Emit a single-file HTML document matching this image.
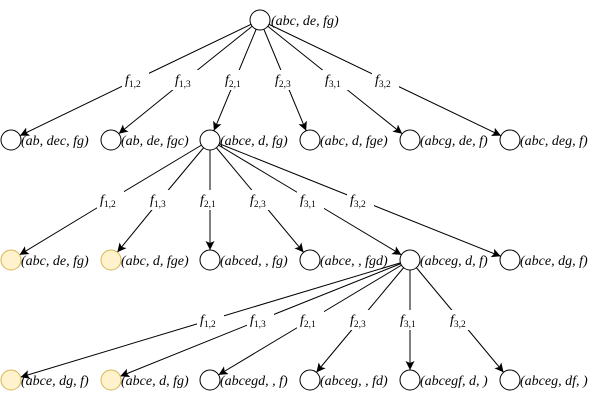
<!DOCTYPE html>
<html><head><meta charset="utf-8"><style>
html,body{margin:0;padding:0;background:#fff;}
svg{display:block;}
text{font-family:"Liberation Serif","DejaVu Serif",serif;font-style:italic;font-size:14px;fill:#000;}
.s{font-size:9.5px;font-style:normal;}
</style></head><body>
<svg width="594" height="401" viewBox="0 0 594 401" xmlns="http://www.w3.org/2000/svg">
<defs>
<marker id="a" markerUnits="userSpaceOnUse" markerWidth="40" markerHeight="40" refX="0" refY="0" viewBox="-30 -20 40 40" orient="auto" overflow="visible">
<path d="M-19,-4.5 L-10,0 L-19,4.5 L-17,0 z" fill="#000"/>
</marker>
</defs>
<g stroke="#000" stroke-width="1" fill="none">
<polyline points="260,20 135,80 11,140" marker-end="url(#a)"/>
<polyline points="260,20 185,80 111,140" marker-end="url(#a)"/>
<polyline points="260,20 235,80 210,140" marker-end="url(#a)"/>
<polyline points="260,20 285,80 310,140" marker-end="url(#a)"/>
<polyline points="260,20 335,80 410,140" marker-end="url(#a)"/>
<polyline points="260,20 385,80 510,140" marker-end="url(#a)"/>
<polyline points="210,140 110,200 11,260" marker-end="url(#a)"/>
<polyline points="210,140 160,200 111,260" marker-end="url(#a)"/>
<polyline points="210,140 210,200 210,260" marker-end="url(#a)"/>
<polyline points="210,140 260,200 310,260" marker-end="url(#a)"/>
<polyline points="210,140 310,200 410,260" marker-end="url(#a)"/>
<polyline points="210,140 360,200 510,260" marker-end="url(#a)"/>
<polyline points="410,260 210,320 11,380" marker-end="url(#a)"/>
<polyline points="410,260 260,320 111,380" marker-end="url(#a)"/>
<polyline points="410,260 310,320 210,380" marker-end="url(#a)"/>
<polyline points="410,260 360,320 310,380" marker-end="url(#a)"/>
<polyline points="410,260 410,320 410,380" marker-end="url(#a)"/>
<polyline points="410,260 460,320 510,380" marker-end="url(#a)"/>
</g>
<g stroke="#000" stroke-width="1" fill="#fff">
<circle cx="260" cy="20" r="10"/>
<circle cx="11" cy="140" r="10"/><circle cx="111" cy="140" r="10"/><circle cx="210" cy="140" r="10"/>
<circle cx="310" cy="140" r="10"/><circle cx="410" cy="140" r="10"/><circle cx="510" cy="140" r="10"/>
<circle cx="210" cy="260" r="10"/><circle cx="310" cy="260" r="10"/><circle cx="410" cy="260" r="10"/><circle cx="510" cy="260" r="10"/>
<circle cx="210" cy="380" r="10"/><circle cx="310" cy="380" r="10"/><circle cx="410" cy="380" r="10"/><circle cx="510" cy="380" r="10"/>
</g>
<g stroke="#d6b656" stroke-width="1" fill="#fff2cc">
<circle cx="11" cy="260" r="10"/><circle cx="111" cy="260" r="10"/>
<circle cx="11" cy="380" r="10"/><circle cx="111" cy="380" r="10"/>
</g>
<g fill="#fff">
<rect x="122" y="70" width="27" height="20"/><rect x="172" y="70" width="27" height="20"/><rect x="222" y="70" width="27" height="20"/>
<rect x="272" y="70" width="27" height="20"/><rect x="322" y="70" width="27" height="20"/><rect x="372" y="70" width="27" height="20"/>
<rect x="97" y="190" width="27" height="20"/><rect x="147" y="190" width="27" height="20"/><rect x="197" y="190" width="27" height="20"/>
<rect x="247" y="190" width="27" height="20"/><rect x="297" y="190" width="27" height="20"/><rect x="347" y="190" width="27" height="20"/>
<rect x="197" y="310" width="27" height="20"/><rect x="247" y="310" width="27" height="20"/><rect x="297" y="310" width="27" height="20"/>
<rect x="347" y="310" width="27" height="20"/><rect x="397" y="310" width="27" height="20"/><rect x="447" y="310" width="27" height="20"/>
</g>
<g>
<text x="125" y="84">f<tspan class="s" dy="3">1,2</tspan></text>
<text x="175" y="84">f<tspan class="s" dy="3">1,3</tspan></text>
<text x="225" y="84">f<tspan class="s" dy="3">2,1</tspan></text>
<text x="275" y="84">f<tspan class="s" dy="3">2,3</tspan></text>
<text x="325" y="84">f<tspan class="s" dy="3">3,1</tspan></text>
<text x="375" y="84">f<tspan class="s" dy="3">3,2</tspan></text>
<text x="100" y="204">f<tspan class="s" dy="3">1,2</tspan></text>
<text x="150" y="204">f<tspan class="s" dy="3">1,3</tspan></text>
<text x="200" y="204">f<tspan class="s" dy="3">2,1</tspan></text>
<text x="250" y="204">f<tspan class="s" dy="3">2,3</tspan></text>
<text x="300" y="204">f<tspan class="s" dy="3">3,1</tspan></text>
<text x="350" y="204">f<tspan class="s" dy="3">3,2</tspan></text>
<text x="200" y="324">f<tspan class="s" dy="3">1,2</tspan></text>
<text x="250" y="324">f<tspan class="s" dy="3">1,3</tspan></text>
<text x="300" y="324">f<tspan class="s" dy="3">2,1</tspan></text>
<text x="350" y="324">f<tspan class="s" dy="3">2,3</tspan></text>
<text x="400" y="324">f<tspan class="s" dy="3">3,1</tspan></text>
<text x="450" y="324">f<tspan class="s" dy="3">3,2</tspan></text>
</g>
<g>
<text x="271" y="25">(abc, de, fg)</text>
<text x="21" y="145">(ab, dec, fg)</text>
<text x="121" y="145">(ab, de, fgc)</text>
<text x="220" y="145">(abce, d, fg)</text>
<text x="320" y="145">(abc, d, fge)</text>
<text x="420" y="145">(abcg, de, f)</text>
<text x="520" y="145">(abc, deg, f)</text>
<text x="21" y="265">(abc, de, fg)</text>
<text x="121" y="265">(abc, d, fge)</text>
<text x="220" y="265">(abced, , fg)</text>
<text x="320" y="265">(abce, , fgd)</text>
<text x="420" y="265">(abceg, d, f)</text>
<text x="520" y="265">(abce, dg, f)</text>
<text x="21" y="385">(abce, dg, f)</text>
<text x="121" y="385">(abce, d, fg)</text>
<text x="220" y="385">(abcegd, , f)</text>
<text x="320" y="385">(abceg, , fd)</text>
<text x="420" y="385">(abcegf, d, )</text>
<text x="520" y="385">(abceg, df, )</text>
</g>
</svg>
</body></html>
